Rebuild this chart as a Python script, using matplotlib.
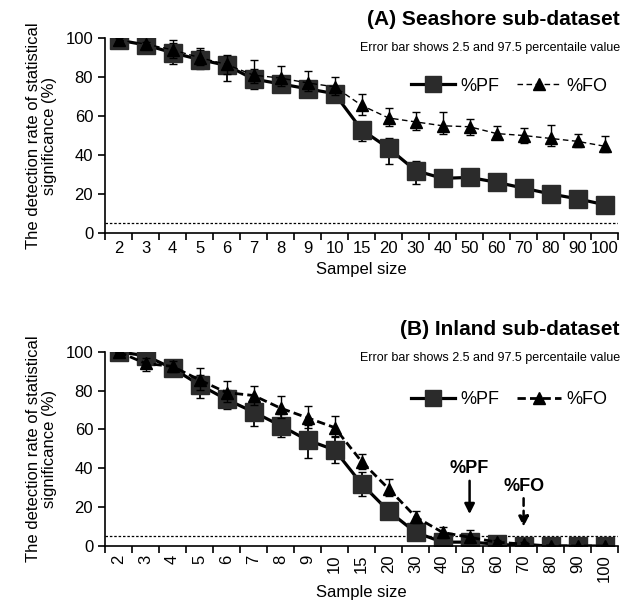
import matplotlib.pyplot as plt
from matplotlib.lines import Line2D
import numpy as np

plt.rcParams['font.family'] = ['Liberation Sans', 'DejaVu Sans']

sizes = ["2", "3", "4", "5", "6", "7", "8", "9", "10", "15", "20",
         "30", "40", "50", "60", "70", "80", "90", "100"]

# (A) Seashore
a_pf = [99, 96.5, 92.5, 89, 86, 79, 76.5, 74, 71.5, 53, 43.5, 32, 28, 28.5, 26, 23, 20, 17.5, 14.5]
a_pf_lo = [1, 1.5, 6, 5, 8, 5, 4, 4, 4, 6, 8, 7, 3, 3, 4, 3, 3, 3, 3]
a_pf_hi = [1, 1.5, 5, 5, 4, 5, 4, 4, 4, 4, 5, 5, 3, 3, 4, 3, 3, 3, 3]
a_fo = [99, 97, 94, 90, 86.5, 81, 79.5, 77, 75, 65.5, 59, 57, 55, 54.5, 51, 50, 48.5, 47, 44.5]
a_fo_lo = [1, 1, 4, 4, 5, 4, 4, 4, 4, 5, 4, 4, 4, 4, 3, 4, 4, 3, 3]
a_fo_hi = [1, 1, 5, 5, 5, 8, 6, 6, 5, 6, 5, 5, 7, 4, 4, 4, 7, 4, 5]

# (B) Inland
b_pf = [100, 98, 91.5, 83, 75.5, 69, 62, 54.5, 49.5, 32, 18, 7, 2, 2, 1, 0, 0, 0, 0]
b_pf_lo = [0, 2, 3, 7, 5, 7, 6, 9, 7, 6, 4, 2, 2, 2, 1, 0, 0, 0, 0]
b_pf_hi = [0, 2, 3, 5, 5, 7, 6, 8, 7, 6, 4, 3, 2, 2, 1, 0, 0, 0, 0]
b_fo = [100, 94, 92.5, 85.5, 79, 77.5, 71, 66, 61, 43.5, 29.5, 15, 7, 4.5, 2, 1, 0, 0, 0]
b_fo_lo = [0, 4, 3, 5, 5, 5, 5, 5, 5, 4, 4, 3, 3, 3, 1, 1, 0, 0, 0]
b_fo_hi = [0, 3, 3, 6, 6, 5, 6, 6, 6, 4, 5, 3, 3, 4, 1, 1, 0, 0, 0]

threshold = 5

fig = plt.figure(figsize=(6.25, 6.05), dpi=100)
ax1 = fig.add_axes([0.168, 0.615, 0.821, 0.322])
ax2 = fig.add_axes([0.168, 0.0975, 0.821, 0.321])

x = np.arange(len(sizes))
mk = "#2b2b2b"


def panel(ax, pf, pf_lo, pf_hi, fo, fo_lo, fo_hi, fo_lw, rot, xlabel):
    fo_ls = (0, (4, 2.5)) if fo_lw < 1.5 else (0, (3, 1.5))
    ax.errorbar(x, fo, yerr=[fo_lo, fo_hi], color="black", ls=fo_ls, lw=fo_lw,
                marker="^", ms=9, mfc="black", mec="black", ecolor="black",
                elinewidth=1, capsize=3, zorder=3)
    ax.errorbar(x, pf, yerr=[pf_lo, pf_hi], color="black", ls="-", lw=2.3,
                marker="s", ms=13, mfc=mk, mec=mk, ecolor="black",
                elinewidth=1.3, capsize=3, zorder=2)
    ax.axhline(threshold, color="black", ls=(0, (2, 1.5)), lw=0.9, zorder=1)
    ax.set_xlim(-0.5, len(sizes) - 0.5)
    ax.set_ylim(0, 100)
    ax.set_yticks(range(0, 101, 20))
    ax.set_xticks(x)
    ax.set_xticklabels(sizes, rotation=rot, fontsize=12)
    ax.set_xticks(np.arange(-0.5, len(sizes)), minor=True)
    ax.tick_params(axis="x", which="major", length=0, pad=6)
    ax.tick_params(axis="x", which="minor", length=5, width=1.2, direction="out")
    ax.tick_params(axis="y", labelsize=12, length=5, width=1.2)
    ax.spines["top"].set_visible(False)
    ax.spines["right"].set_visible(False)
    ax.spines["left"].set_linewidth(1.2)
    ax.spines["bottom"].set_linewidth(1.2)
    ax.set_ylabel("The detection rate of statistical\nsignificance (%)", fontsize=12,
                  labelpad=6, linespacing=1.1)
    ax.set_xlabel(xlabel, fontsize=12)
    handles = [Line2D([], [], color="black", lw=2.3, marker="s", ms=11, mfc=mk, mec=mk),
               Line2D([], [], color="black", lw=fo_lw, ls=fo_ls, marker="^", ms=8,
                      mfc="black", mec="black")]
    ax.legend(handles, ["%PF", "%FO"], ncol=2, frameon=False, fontsize=13,
              handlelength=2.4, handletextpad=0.3, columnspacing=1.0,
              loc="upper right", bbox_to_anchor=(1.01, 0.88))


panel(ax1, a_pf, a_pf_lo, a_pf_hi, a_fo, a_fo_lo, a_fo_hi, 1.0, 0, "Sampel size")
panel(ax2, b_pf, b_pf_lo, b_pf_hi, b_fo, b_fo_lo, b_fo_hi, 2.0, 90, "Sample size")
ax2.xaxis.labelpad = 2

fig.text(0.992, 0.968, "(A) Seashore sub-dataset", ha="right", va="center",
         fontsize=15, fontweight="bold")
fig.text(0.992, 0.921, "Error bar shows 2.5 and 97.5 percentaile value", ha="right",
         va="center", fontsize=9)
fig.text(0.992, 0.455, "(B) Inland sub-dataset", ha="right", va="center",
         fontsize=15, fontweight="bold")
fig.text(0.992, 0.408, "Error bar shows 2.5 and 97.5 percentaile value", ha="right",
         va="center", fontsize=9)

# threshold arrows
ax2.annotate("", xy=(13, 15), xytext=(13, 35),
             arrowprops=dict(arrowstyle="-|>", color="black", lw=1.8, mutation_scale=15))
ax2.text(13, 35.5, "%PF", ha="center", va="bottom", fontsize=13, fontweight="bold")
ax2.annotate("", xy=(15, 8.5), xytext=(15, 26),
             arrowprops=dict(arrowstyle="-|>", color="black", lw=1.8, ls=(0, (3, 2)),
                             mutation_scale=15))
ax2.text(15, 26.5, "%FO", ha="center", va="bottom", fontsize=13, fontweight="bold")

plt.savefig("out.png")
